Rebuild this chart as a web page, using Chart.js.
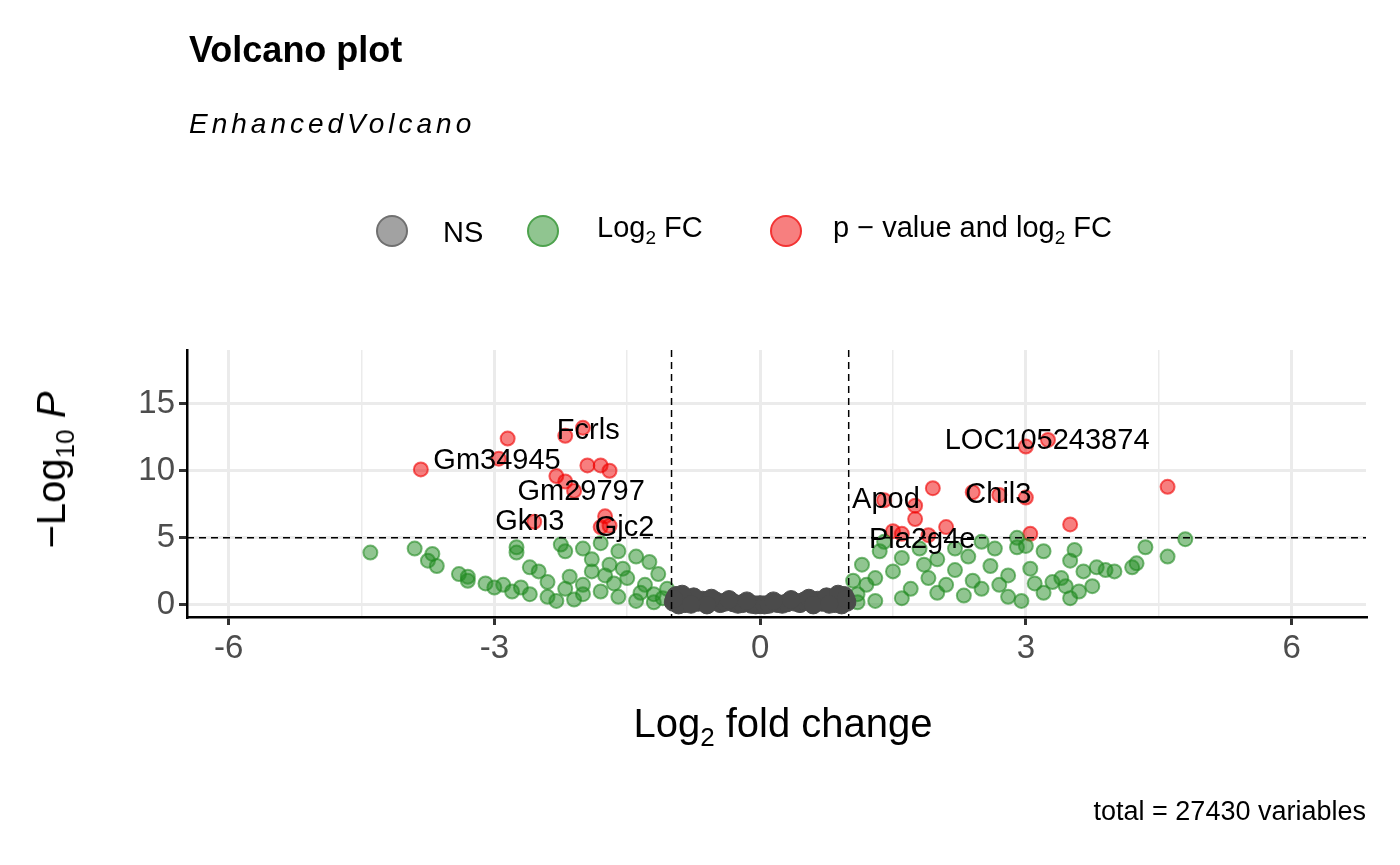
<!DOCTYPE html>
<html><head><meta charset="utf-8">
<script src="https://cdn.jsdelivr.net/npm/chart.js@4"></script>
<style>
body{margin:0;width:1400px;height:865px;background:#fff;font-family:"Liberation Sans",Arial,sans-serif;position:relative;overflow:hidden}
#c{position:absolute;left:0;top:0}
.t{position:absolute;white-space:nowrap;color:#000}
.dot{position:absolute;width:30px;height:30px;border-radius:50%}
</style></head><body>
<canvas id="c" width="1400" height="865"></canvas>
<div class="t" style="left:189px;top:29px;font-size:36px;font-weight:bold">Volcano plot</div>
<div class="t" style="left:189px;top:108px;font-size:28px;font-style:italic;letter-spacing:4px">EnhancedVolcano</div>
<div class="dot" style="left:376px;top:215px;background:rgba(100,100,100,0.6);border:2px solid rgba(100,100,100,0.8);width:28px;height:28px"></div>
<div class="t" style="left:443px;top:216px;font-size:29px">NS</div>
<div class="dot" style="left:527px;top:215px;background:rgba(34,139,34,0.5);border:2px solid rgba(34,139,34,0.6);width:28px;height:28px"></div>
<div class="t" style="left:597px;top:211px;font-size:29px">Log<sub style="font-size:19px">2</sub> FC</div>
<div class="dot" style="left:770px;top:215px;background:rgba(240,0,0,0.5);border:2px solid rgba(240,0,0,0.6);width:28px;height:28px"></div>
<div class="t" style="left:833px;top:211px;font-size:29px">p − value and log<sub style="font-size:19px">2</sub> FC</div>
<div class="t" style="left:55px;top:470px;font-size:40px;transform:translate(-50%,-50%) rotate(-90deg)">−Log<sub style="font-size:26px">10</sub> <i>P</i></div>
<div class="t" style="left:783px;top:727px;font-size:40px;transform:translate(-50%,-50%)">Log<sub style="font-size:26px">2</sub> fold change</div>
<div class="t" style="right:34px;top:796px;font-size:27px">total = 27430 variables</div>
<script>
const xTicks=[-6,-4.5,-3,-1.5,0,1.5,3,4.5,6];
const yTicks=[0,2.5,5,7.5,10,12.5,15,17.5];
const nsX=[-0.98,-0.9,-0.85,-0.8,-0.7,-0.65,-0.6,-0.5,-0.45,-0.4,-0.3,-0.25,-0.2,-0.1,-0.05,0.0,0.05,0.1,0.2,0.25,0.3,0.4,0.45,0.5,0.6,0.65,0.7,0.8,0.85,0.9,0.98,-0.95,-0.75,-0.55,-0.35,-0.15,0.15,0.35,0.55,0.75,0.95,-0.92,0.92,-0.6,0.6,-0.88,0.88,-0.97,0.97,-0.78,0.78];
const nsY=[0.2,0.5,0.1,0.4,0.2,0.35,0.05,0.3,0.1,0.2,0.15,0.05,0.1,0.05,0.0,0.02,0.0,0.05,0.1,0.05,0.15,0.2,0.1,0.3,0.05,0.35,0.2,0.4,0.1,0.5,0.2,0.7,0.6,0.5,0.4,0.3,0.3,0.4,0.5,0.6,0.7,0.0,0.0,0.0,0.0,0.8,0.8,0.45,0.45,0.05,0.05];
const fcX=[-4.4,-3.9,-3.7,-3.75,-3.65,-3.3,-3.3,-3.1,-3.0,-2.9,-2.75,-2.75,-2.6,-2.5,-2.2,-2.25,-2.0,-1.8,-1.6,-2.8,-2.6,-2.4,-2.2,-2.0,-1.9,-1.7,-1.5,-1.3,-1.2,-1.1,-1.4,-1.6,-1.8,-2.1,-2.3,-1.05,-1.15,-1.25,-1.4,-1.9,-2.4,-2.7,-3.4,-1.65,-1.35,-1.55,-2.15,-1.75,-2.0,-1.2,
4.8,4.6,4.35,4.25,3.9,3.8,3.65,3.55,3.5,3.4,3.45,3.3,3.1,3.0,2.9,2.9,3.2,2.5,2.2,2.0,1.8,1.6,1.5,1.3,1.2,1.1,1.05,1.15,1.35,1.4,1.7,2.0,2.3,2.5,2.8,2.95,1.9,2.2,2.6,2.8,2.4,1.6,1.3,2.7,3.2,3.6,3.75,3.05,1.85,2.35,1.1,3.5,4.0,4.2,2.65,2.1];
const fcY=[3.9,4.2,3.8,3.3,2.9,2.1,1.8,1.6,1.3,1.5,4.3,3.9,2.8,2.5,4.0,4.5,4.2,4.6,4.0,1.0,0.8,0.6,1.2,1.5,2.5,3.0,2.0,1.5,0.8,0.5,0.3,0.6,1.0,0.4,0.3,1.2,2.3,3.2,3.6,3.4,1.7,1.3,2.3,1.6,0.9,2.7,2.1,2.2,0.8,0.2,
4.9,3.6,4.3,3.1,2.6,2.8,2.5,4.1,3.3,2.0,1.4,1.7,1.6,4.4,5.0,4.3,4.0,4.7,4.2,3.4,4.2,3.5,2.5,2.0,1.5,0.8,1.8,3.0,4.0,4.7,1.2,0.9,0.7,1.2,0.6,0.3,2.0,2.6,2.9,2.2,1.8,0.5,0.3,1.5,0.9,1.0,1.4,2.7,3.0,3.6,0.2,0.5,2.5,2.8,4.2,1.5];
const sigX=[-3.83,-2.85,-2.0,-2.2,-2.95,-2.3,-2.2,-2.1,-1.95,-1.8,-1.7,-1.75,-1.7,-2.55,-1.8,3.0,3.25,4.6,1.95,2.4,2.7,3.0,1.4,1.75,1.75,3.5,3.05,2.1,1.6,1.5,1.9];
const sigY=[10.1,12.4,13.2,12.6,10.9,9.6,9.2,8.5,10.4,10.4,10.0,6.6,5.9,6.2,5.8,11.8,12.3,8.8,8.7,8.4,8.2,8.0,7.8,7.4,6.4,6.0,5.3,5.8,5.3,5.5,5.2];
const labels=["Fcrls","Gm34945","Gm29797","Gkn3","Gjc2","LOC105243874","Apod","Chil3","Pla2g4e"];
const labX=[-1.94,-2.97,-2.02,-2.6,-1.53,3.24,1.42,2.69,1.83];
const labY=[13.0,10.7,8.4,6.2,5.7,12.2,7.8,8.2,4.85];
const pts=(xs,ys)=>xs.map((x,i)=>({x,y:ys[i]}));
const labelPlugin={id:'lab',afterDatasetsDraw(ch){const c=ch.ctx,xs=ch.scales.x,ys=ch.scales.y,a=ch.chartArea;
 c.save();c.setLineDash([7,5]);c.strokeStyle='#000';c.lineWidth=1.5;
 [-1,1].forEach(v=>{const p=xs.getPixelForValue(v);c.beginPath();c.moveTo(p,a.top);c.lineTo(p,a.bottom);c.stroke();});
 const py=ys.getPixelForValue(5);c.beginPath();c.moveTo(a.left,py);c.lineTo(a.right,py);c.stroke();
 c.setLineDash([]);c.fillStyle='#000';c.font='29px "Liberation Sans", Arial';c.textAlign='center';c.textBaseline='middle';
 labels.forEach((l,i)=>c.fillText(l,xs.getPixelForValue(labX[i]),ys.getPixelForValue(labY[i])));c.restore();}};
const isMaj=(v,m)=>Math.abs(v/m-Math.round(v/m))<1e-6;
new Chart(document.getElementById('c'),{type:'scatter',
 data:{datasets:[
  {data:pts(nsX,nsY),backgroundColor:'rgba(75,75,75,1)',borderColor:'rgba(75,75,75,1)',pointRadius:9,borderWidth:1},
  {data:pts(fcX,fcY),backgroundColor:'rgba(34,139,34,0.5)',borderColor:'rgba(34,139,34,0.6)',pointRadius:7,borderWidth:2},
  {data:pts(sigX,sigY),backgroundColor:'rgba(240,0,0,0.5)',borderColor:'rgba(240,0,0,0.6)',pointRadius:7,borderWidth:2}]},
 options:{responsive:false,animation:false,plugins:{legend:{display:false},tooltip:{enabled:false}},
  layout:{padding:{left:0,right:34,top:350,bottom:0}},
  scales:{
   x:{type:'linear',min:-6.47,max:6.84,afterBuildTicks:s=>{s.ticks=xTicks.map(v=>({value:v}))},afterFit:s=>{s.height=248},
     ticks:{color:'#4d4d4d',font:{size:33,family:'Liberation Sans'},padding:4,callback:v=>isMaj(v,3)?String(v):''},
     grid:{color:'#ebebeb',lineWidth:c=>isMaj(c.tick.value,3)?3:1.5,tickLength:8,tickColor:c=>isMaj(c.tick.value,3)?'#333':'rgba(0,0,0,0)'},
     border:{color:'#000',width:2.5}},
   y:{type:'linear',min:-0.9,max:19,afterBuildTicks:s=>{s.ticks=yTicks.map(v=>({value:v}))},afterFit:s=>{s.width=187},
     ticks:{color:'#4d4d4d',font:{size:33,family:'Liberation Sans'},padding:4,callback:v=>isMaj(v,5)?String(v):''},
     grid:{color:'#ebebeb',lineWidth:c=>isMaj(c.tick.value,5)?3:1.5,tickLength:8,tickColor:c=>isMaj(c.tick.value,5)?'#333':'rgba(0,0,0,0)'},
     border:{color:'#000',width:2.5}}}},
 plugins:[labelPlugin]});
</script></body></html>
